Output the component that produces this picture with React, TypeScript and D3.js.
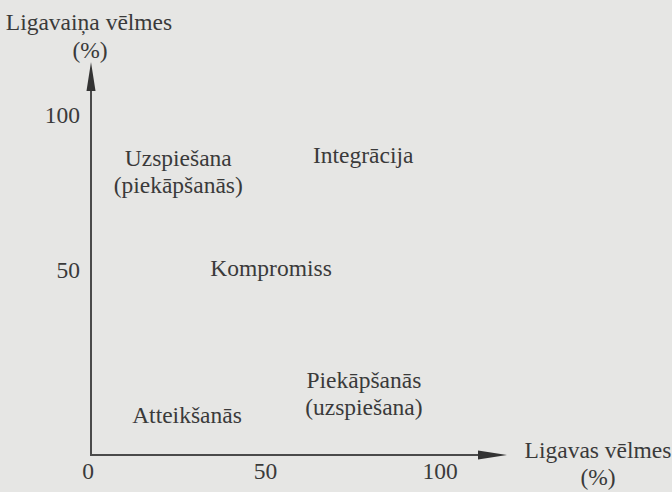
import React, { useEffect, useRef } from "react";
import * as d3 from "d3";

// axis ticks (percent)
const xTicks = [0, 50, 100];
const yTicks = [50, 100];

// region labels: text lines and their position in percent of both wishes
const regionLines = [
    ["Uzspiešana", "(piekāpšanās)"],
    ["Integrācija"],
    ["Kompromiss"],
    ["Piekāpšanās", "(uzspiešana)"],
    ["Atteikšanās"],
];
const regionX = [25, 78, 51.6, 78.2, 27.5];
const regionY = [84.2, 85.2, 48.7, 12.6, 1.3];

const xTitle = ["Ligavas vēlmes", "(%)"];
const yTitle = ["Ligavaiņa vēlmes", "(%)"];

const App: React.FC = () => {
    const svgRef = useRef<SVGSVGElement | null>(null);
    const ink = "#3a3a3a";
    const paper = "#e6e6e4";

    useEffect(() => {
        const svg = d3.select(svgRef.current);
        svg.selectAll("*").remove();
        const width = 672;
        const height = 492;
        const originX = 91;
        const baseY = 455;

        svg.append("rect").attr("width", width).attr("height", height).attr("fill", paper);

        const x = d3.scaleLinear().domain([0, 100]).range([originX, 440]);
        const y = d3.scaleLinear().domain([0, 100]).range([427, 117]);

        const g = svg.append("g")
            .style("font-family", "'Liberation Serif', 'Times New Roman', serif")
            .style("font-size", "23.5px")
            .attr("fill", ink);

        // axes with arrows
        const arrowLen = 29;
        const arrowHalf = 4.5;
        const xEnd = 507;
        const yEnd = 62;
        g.append("line")
            .attr("x1", originX).attr("y1", baseY)
            .attr("x2", xEnd - arrowLen + 2).attr("y2", baseY)
            .attr("stroke", "#4a4a4a").attr("stroke-width", 2);
        g.append("line")
            .attr("x1", originX).attr("y1", baseY + 1)
            .attr("x2", originX).attr("y2", yEnd + arrowLen - 2)
            .attr("stroke", "#4a4a4a").attr("stroke-width", 2);
        g.append("path")
            .attr("d", `M${xEnd},${baseY} L${xEnd - arrowLen},${baseY - arrowHalf} L${xEnd - arrowLen},${baseY + arrowHalf} Z`)
            .attr("fill", "#333");
        g.append("path")
            .attr("d", `M${originX},${yEnd} L${originX - arrowHalf},${yEnd + arrowLen} L${originX + arrowHalf},${yEnd + arrowLen} Z`)
            .attr("fill", "#333");

        // tick labels
        g.selectAll(".xt").data(xTicks).enter().append("text")
            .attr("x", (d) => x(d) - (d === 0 ? 3 : 0))
            .attr("y", 479)
            .attr("text-anchor", "middle")
            .text((d) => d);
        g.selectAll(".yt").data(yTicks).enter().append("text")
            .attr("x", 80)
            .attr("y", (d) => y(d) + 6)
            .attr("text-anchor", "end")
            .text((d) => d);

        // axis titles
        g.append("text").attr("x", 89).attr("y", 30).attr("text-anchor", "middle").text(yTitle[0]);
        g.append("text").attr("x", 90).attr("y", 58).attr("text-anchor", "middle").text(yTitle[1]);
        g.append("text").attr("x", 598).attr("y", 458).attr("text-anchor", "middle").text(xTitle[0]);
        g.append("text").attr("x", 598).attr("y", 485).attr("text-anchor", "middle").text(xTitle[1]);

        // region labels
        regionLines.forEach((lines, i) => {
            const t = g.append("text")
                .attr("x", x(regionX[i]))
                .attr("y", y(regionY[i]))
                .attr("text-anchor", "middle");
            lines.forEach((line, j) => {
                t.append("tspan")
                    .attr("x", x(regionX[i]))
                    .attr("dy", j === 0 ? 0 : 27)
                    .text(line);
            });
        });
    }, []);

    return (
        <div>
            <svg ref={svgRef} width={672} height={492} style={{ position: "absolute", left: 0, top: 0 }}></svg>
        </div>
    );
};

export default App;
